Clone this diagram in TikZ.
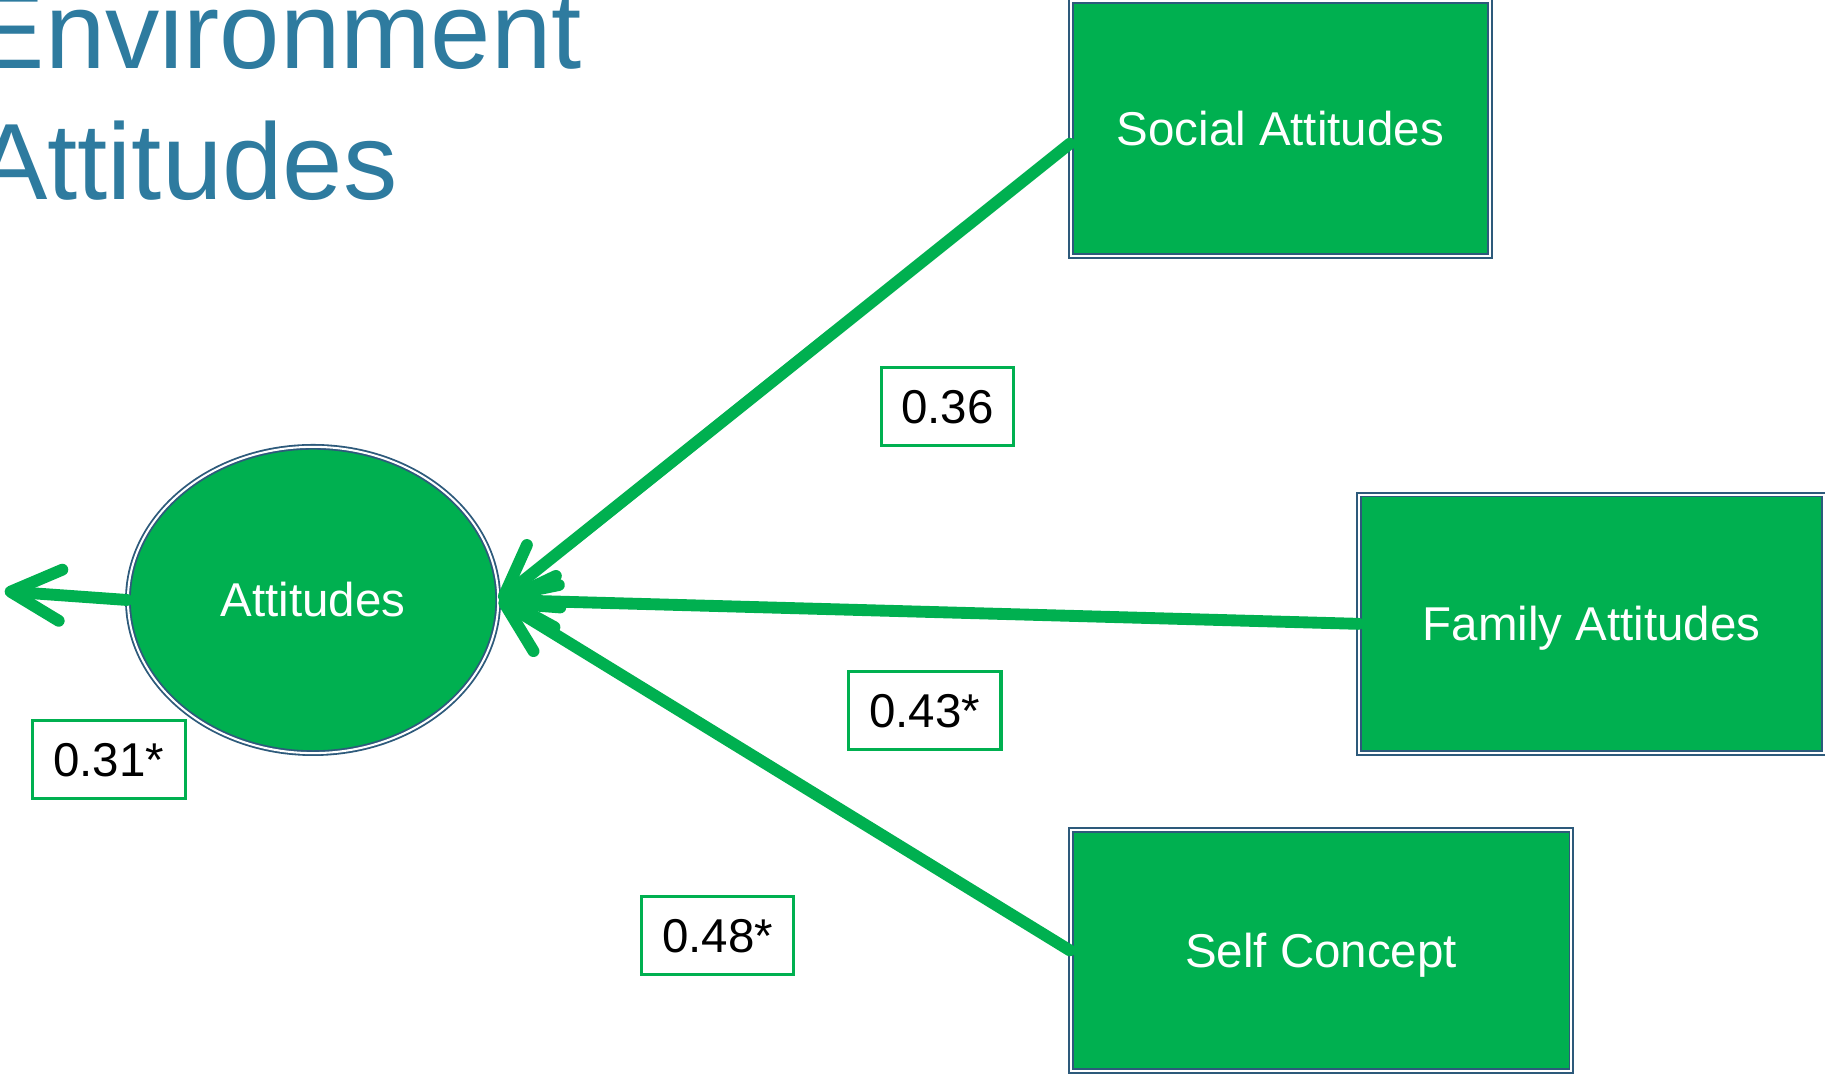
\documentclass[tikz,border=0pt]{standalone}
\usepackage{fontspec}
\setmainfont{Liberation Sans}
\usetikzlibrary{arrows.meta,shapes.geometric}
\definecolor{pgreen}{HTML}{00B050}
\definecolor{titleblue}{HTML}{2E7B9F}
\definecolor{edgeblue}{HTML}{2D5A7B}
\tikzset{
  varbox/.style={rectangle, fill=pgreen, draw=edgeblue, line width=0.45pt, double=white, double distance=0.5pt,
    text=white, inner sep=0pt, font=\fontsize{11.6pt}{13pt}\selectfont, text height=8.3pt, text depth=0pt},
  latent/.style={ellipse, fill=pgreen, draw=edgeblue, line width=0.45pt, double=white, double distance=0.5pt,
    text=white, inner sep=0pt, font=\fontsize{11.6pt}{13pt}\selectfont, text height=8.3pt, text depth=0pt},
  coef/.style={rectangle, fill=white, draw=pgreen, line width=0.75pt, text=black, inner sep=0pt,
    font=\fontsize{11.6pt}{13pt}\selectfont, text height=8.3pt, text depth=0pt, minimum height=0.67cm},
  semline/.style={draw=pgreen, line width=2.9pt, line cap=round, -{Straight Barb[length=0.43cm, width=0.44cm, round]}},
  titletext/.style={anchor=base west, inner sep=0pt, text=titleblue, font=\fontsize{26.5pt}{30pt}\selectfont}
}
\begin{document}
\begin{tikzpicture}[x=0.01cm, y=-0.01cm]
\useasboundingbox (0,0) rectangle (1568,922);
\clip (0,0) rectangle (1568,922);
\fill[white] (0,0) rectangle (1568,922);

\node[titletext] (t1) at (-24,59) {Environment};
\node[titletext] (t2) at (-22,171) {Attitudes};

\node[varbox, minimum width=3.6cm, minimum height=2.19cm] (soc) at (1100,110.5) {Social Attitudes};
\node[varbox, minimum width=3.99cm, minimum height=2.22cm] (fam) at (1367.5,536) {Family Attitudes};
\node[varbox, minimum width=4.30cm, minimum height=2.07cm] (self) at (1135,816.5) {Self Concept};
\node[latent, minimum width=3.18cm, minimum height=2.63cm] (att) at (269,515.5) {Attitudes};

\coordinate (out) at (4,508);

\draw[semline] ([yshift=-0.13cm]soc.west) -- (att.east);
\draw[semline] (fam.west) -- (att.east);
\draw[semline] (self.west) -- (att.east);
\draw[semline] (att.west) -- (out);

\node[coef, minimum width=1.14cm] (c1) at (814,349.5) {0.36};
\node[coef, minimum width=1.31cm] (c2) at (794.5,610.5) {0.43*};
\node[coef, minimum width=1.31cm] (c3) at (616.5,803.5) {0.48*};
\node[coef, minimum width=1.31cm] (c4) at (93.5,652.5) {0.31*};
\end{tikzpicture}
\end{document}
